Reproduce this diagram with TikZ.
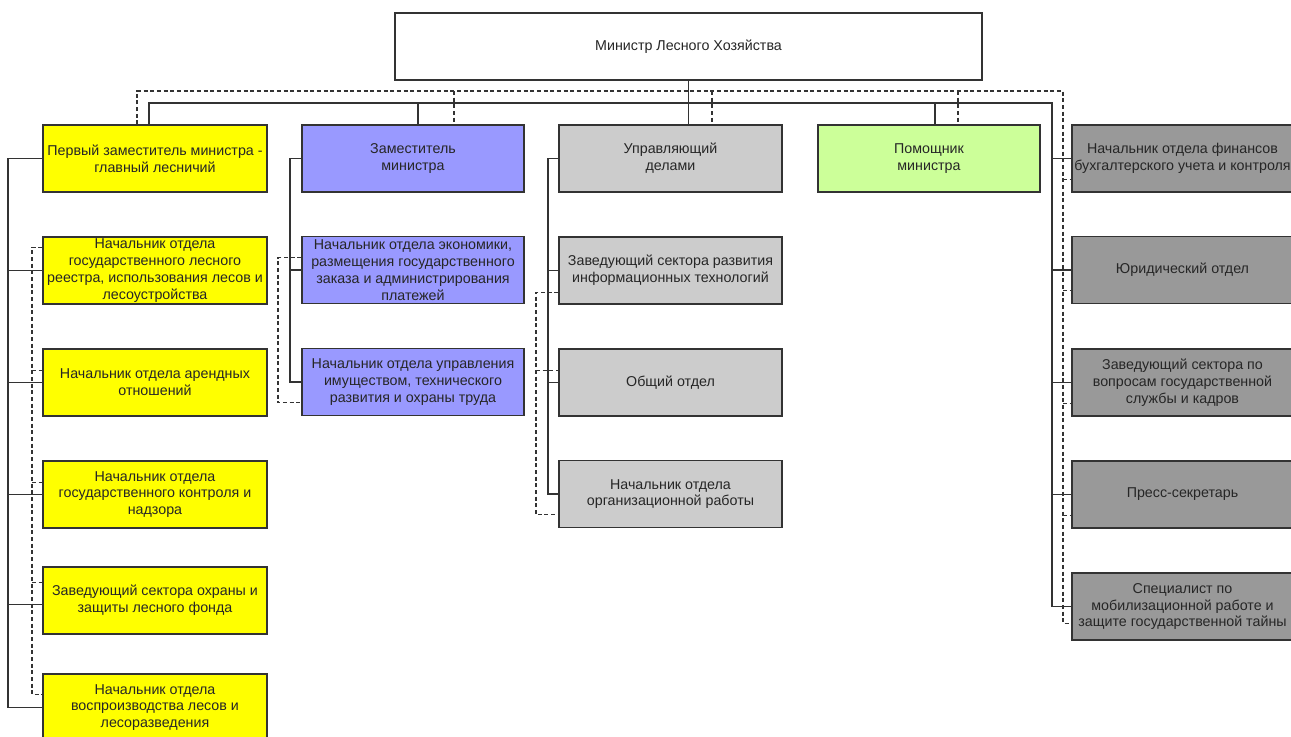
\documentclass[tikz,border=0pt]{standalone}
\usepackage{fontspec}
\setmainfont{Liberation Sans}
\usetikzlibrary{calc}
\definecolor{cyel}{HTML}{FFFF00}
\definecolor{cblue}{HTML}{9999FF}
\definecolor{clgrey}{HTML}{CCCCCC}
\definecolor{cgreen}{HTML}{CCFF99}
\definecolor{cdgrey}{HTML}{999999}
\definecolor{cline}{HTML}{333333}
\begin{document}
\begin{tikzpicture}[x=0.75pt,y=-0.75pt,
  box/.style={draw=cline, line width=0.9pt, align=center, inner sep=0pt,
    font=\fontsize{10.7}{12.6}\selectfont, text=black!85, minimum height=67*0.75pt},
  bw/.style={minimum width=#1*0.75pt},
  sl/.style={draw=cline, line width=0.8pt},
  dl/.style={draw=cline, line width=0.8pt, dash pattern=on 3pt off 2pt}]
\useasboundingbox (0,0) rectangle (1291,736);
% top
\node[box,bw=587,fill=white] (top) at (688.5,46.5) {Министр Лесного Хозяйства};
% row 1
\node[box,bw=224,fill=cyel] (y1) at (155,158.5) {Первый заместитель министра -\\главный лесничий};
\node[box,bw=222,fill=cblue] (z1) at (413,158.5) {Заместитель\\министра};
\node[box,bw=223,fill=clgrey] (g1) at (670.5,158.5) {Управляющий\\делами};
\node[box,bw=222,fill=cgreen] (p1) at (929,158.5) {Помощник\\министра};
\node[box,bw=221,fill=cdgrey] (r1) at (1182.5,158.5) {Начальник отдела финансов\\бухгалтерского учета и контроля};
% yellow column
\node[box,bw=224,fill=cyel] (y2) at (155,270.5) {Начальник отдела\\государственного лесного\\реестра, использования лесов и\\лесоустройства};
\node[box,bw=224,fill=cyel] (y3) at (155,382.5) {Начальник отдела арендных\\отношений};
\node[box,bw=224,fill=cyel] (y4) at (155,494.5) {Начальник отдела\\государственного контроля и\\надзора};
\node[box,bw=224,fill=cyel] (y5) at (155,600.5) {Заведующий сектора охраны и\\защиты лесного фонда};
\node[box,bw=224,fill=cyel] (y6) at (155,707.5) {Начальник отдела\\воспроизводства лесов и\\лесоразведения};
% blue column
\node[box,bw=222,fill=cblue] (z2) at (413,270) {Начальник отдела экономики,\\размещения государственного\\заказа и администрирования\\платежей};
\node[box,bw=222,fill=cblue] (z3) at (413,382) {Начальник отдела управления\\имуществом, технического\\развития и охраны труда};
% grey column
\node[box,bw=223,fill=clgrey] (g2) at (670.5,270.5) {Заведующий сектора развития\\информационных технологий};
\node[box,bw=223,fill=clgrey] (g3) at (670.5,382.5) {Общий отдел};
\node[box,bw=223,fill=clgrey] (g4) at (670.5,494) {Начальник отдела\\организационной работы};
% right column
\node[box,bw=221,fill=cdgrey] (r2) at (1182.5,270) {Юридический отдел};
\node[box,bw=221,fill=cdgrey] (r3) at (1182.5,382.5) {Заведующий сектора по\\вопросам государственной\\службы и кадров};
\node[box,bw=221,fill=cdgrey] (r4) at (1182.5,494.5) {Пресс-секретарь};
\node[box,bw=221,fill=cdgrey] (r5) at (1182.5,606.5) {Специалист по\\мобилизационной работе и\\защите государственной тайны};

% ---------- solid connectors ----------
\coordinate (sbL) at (149,103);
\coordinate (sbR) at (1052,103);
\coordinate (dz) at (418,103);
\coordinate (dp) at (935,103);
\draw[sl] (top.south) -- (top.south |- g1.north);
\draw[sl] (sbL |- y1.north) -- (sbL) -- (sbR) -- (sbR |- r5.west) -- (r5.west);
\draw[sl] (dz) -- (dz |- z1.north);
\draw[sl] (dp) -- (dp |- p1.north);
\foreach \n in {r1,r2,r3,r4} \draw[sl] (sbR |- \n.west) -- (\n.west);
% left
\coordinate (lx) at (8,0);
\coordinate (y5s) at ($(y5.north west)+(0,38)$);
\draw[sl] (y1.west) -- (y1.west -| lx) -- (y6.west -| lx) -- (y6.west);
\foreach \n in {y2,y3,y4} \draw[sl] (\n.west -| lx) -- (\n.west);
\draw[sl] (y5s -| lx) -- (y5s);
% blue
\coordinate (bx) at (290,0);
\draw[sl] (z1.west) -- (z1.west -| bx) -- (z3.west -| bx) -- (z3.west);
\draw[sl] (z2.west -| bx) -- (z2.west);
% grey
\coordinate (gx) at (548,0);
\draw[sl] (g1.west) -- (g1.west -| gx) -- (g4.west -| gx) -- (g4.west);
\foreach \n in {g2,g3} \draw[sl] (\n.west -| gx) -- (\n.west);

% ---------- dashed connectors ----------
\coordinate (dbL) at (137,91);
\coordinate (dbR) at (1063,91);
\coordinate (d1) at (454,91);
\coordinate (d2) at (712,91);
\coordinate (d3) at (958,91);
\coordinate (r5d) at ($(r5.north west)+(0,51)$);
\draw[dl] (dbL |- y1.north) -- (dbL) -- (dbR) -- (dbR |- r5d) -- (r5d);
\draw[dl] (d1) -- (d1 |- z1.north);
\draw[dl] (d2) -- (d2 |- g1.north);
\draw[dl] (d3) -- (d3 |- p1.north);
\foreach \n in {r1,r2,r3,r4} {
  \coordinate (rd) at ($(\n.north west)+(0,55)$);
  \draw[dl] (dbR |- rd) -- (rd);
}
% left dashed
\coordinate (ldx) at (32,0);
\coordinate (ya) at ($(y2.north west)+(0,11)$);
\coordinate (yb) at ($(y3.north west)+(0,22)$);
\coordinate (yc) at ($(y4.north west)+(0,22)$);
\coordinate (yd) at ($(y5.north west)+(0,16)$);
\coordinate (ye) at ($(y6.north west)+(0,21)$);
\draw[dl] (ya) -- (ya -| ldx) -- (ye -| ldx) -- (ye);
\foreach \c in {yb,yc,yd} \draw[dl] (\c -| ldx) -- (\c);
% blue dashed
\coordinate (bdx) at (278,0);
\coordinate (za) at ($(z2.north west)+(0,22)$);
\coordinate (zb) at ($(z3.north west)+(0,55)$);
\draw[dl] (za) -- (za -| bdx) -- (zb -| bdx) -- (zb);
% grey dashed
\coordinate (gdx) at (536,0);
\coordinate (ga) at ($(g2.north west)+(0,56)$);
\coordinate (gb) at ($(g3.north west)+(0,22)$);
\coordinate (gc) at ($(g4.north west)+(0,55)$);
\draw[dl] (ga) -- (ga -| gdx) -- (gc -| gdx) -- (gc);
\draw[dl] (gb -| gdx) -- (gb);
\end{tikzpicture}
\end{document}
